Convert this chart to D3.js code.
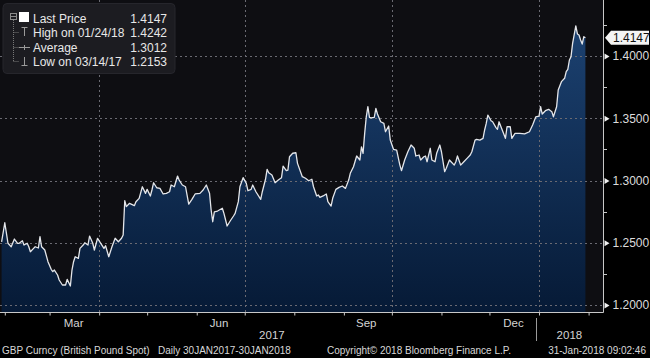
<!DOCTYPE html>
<html><head><meta charset="utf-8">
<script src="https://cdn.jsdelivr.net/npm/d3@7"></script>
<style>html,body{margin:0;padding:0;background:#000;}svg{display:block;}</style>
</head><body>
<svg id="chart" width="650" height="358"></svg>
<script>
// ---- data ----
const dates = ["2017-01-30","2017-02-01","2017-02-03","2017-02-05","2017-02-07","2017-02-09","2017-02-10","2017-02-12","2017-02-13","2017-02-15","2017-02-16","2017-02-17","2017-02-19","2017-02-20","2017-02-22","2017-02-23","2017-02-24","2017-02-26","2017-02-28",
"2017-03-02","2017-03-03","2017-03-04","2017-03-06","2017-03-07","2017-03-09","2017-03-11","2017-03-12","2017-03-14","2017-03-15","2017-03-16","2017-03-17","2017-03-19","2017-03-20","2017-03-22","2017-03-23","2017-03-25","2017-03-26","2017-03-28","2017-03-29","2017-03-31",
"2017-04-02","2017-04-04","2017-04-05","2017-04-07","2017-04-09","2017-04-11","2017-04-13","2017-04-15","2017-04-16","2017-04-17","2017-04-18","2017-04-20","2017-04-21","2017-04-23","2017-04-24","2017-04-26","2017-04-28","2017-04-30",
"2017-05-01","2017-05-03","2017-05-04","2017-05-05","2017-05-07","2017-05-09","2017-05-11","2017-05-13","2017-05-15","2017-05-16","2017-05-18","2017-05-20","2017-05-21","2017-05-23","2017-05-25","2017-05-27","2017-05-29","2017-05-31",
"2017-06-03","2017-06-05","2017-06-07","2017-06-09","2017-06-10","2017-06-11","2017-06-12","2017-06-14","2017-06-17","2017-06-18","2017-06-20","2017-06-22","2017-06-24","2017-06-25","2017-06-27","2017-06-28","2017-06-30",
"2017-07-02","2017-07-03","2017-07-05","2017-07-06","2017-07-08","2017-07-11","2017-07-12","2017-07-14","2017-07-15","2017-07-16","2017-07-18","2017-07-20","2017-07-22","2017-07-24","2017-07-25","2017-07-27","2017-07-28","2017-07-29","2017-07-31",
"2017-08-02","2017-08-03","2017-08-06","2017-08-08","2017-08-10","2017-08-12","2017-08-13","2017-08-15","2017-08-16","2017-08-17","2017-08-19","2017-08-21","2017-08-22","2017-08-24","2017-08-25","2017-08-27","2017-08-29","2017-08-31",
"2017-09-02","2017-09-04","2017-09-05","2017-09-07","2017-09-09","2017-09-11","2017-09-12","2017-09-13","2017-09-14","2017-09-15","2017-09-16","2017-09-17","2017-09-18","2017-09-20","2017-09-21","2017-09-22","2017-09-24","2017-09-26","2017-09-27","2017-09-29","2017-09-30",
"2017-10-02","2017-10-04","2017-10-06","2017-10-07","2017-10-09","2017-10-11","2017-10-13","2017-10-15","2017-10-16","2017-10-18","2017-10-19","2017-10-21","2017-10-22","2017-10-23","2017-10-25","2017-10-26","2017-10-28","2017-10-29","2017-10-31",
"2017-11-01","2017-11-03","2017-11-04","2017-11-06","2017-11-07","2017-11-09","2017-11-10","2017-11-11","2017-11-13","2017-11-15","2017-11-17","2017-11-19","2017-11-20","2017-11-22","2017-11-23","2017-11-25","2017-11-27","2017-11-28","2017-11-29","2017-11-30",
"2017-12-02","2017-12-03","2017-12-05","2017-12-06","2017-12-07","2017-12-09","2017-12-11","2017-12-12","2017-12-14","2017-12-15","2017-12-17","2017-12-20","2017-12-23","2017-12-26","2017-12-28","2017-12-30",
"2018-01-01","2018-01-02","2018-01-03","2018-01-05","2018-01-07","2018-01-09","2018-01-10","2018-01-12","2018-01-13","2018-01-15","2018-01-17","2018-01-18","2018-01-19","2018-01-20","2018-01-21","2018-01-22","2018-01-24","2018-01-25","2018-01-26","2018-01-27","2018-01-28","2018-01-29","2018-01-30"];

const prices = [1.2508,1.2661,1.2496,1.2468,1.2530,1.2496,1.2496,1.2516,1.2482,1.2496,1.2468,1.2428,1.2455,1.2468,1.2458,1.2549,1.2468,1.2442,1.2348,
1.2287,1.2268,1.2281,1.2241,1.2201,1.2161,1.2161,1.2206,1.2153,1.2281,1.2348,1.2388,1.2375,1.2455,1.2482,1.2500,1.2482,1.2554,1.2496,1.2442,1.2536,
1.2496,1.2455,1.2476,1.2388,1.2468,1.2536,1.2508,1.2536,1.2562,1.2838,1.2790,1.2817,1.2811,1.2798,1.2830,1.2857,1.2950,1.2897,
1.2929,1.2876,1.2924,1.2982,1.2942,1.2937,1.2892,1.2897,1.2910,1.2964,1.2950,1.3036,1.3004,1.2964,1.2950,1.2811,1.2849,1.2892,
1.2897,1.2924,1.2964,1.2897,1.2763,1.2669,1.2749,1.2755,1.2777,1.2736,1.2635,1.2677,1.2715,1.2736,1.2830,1.2950,1.3023,
1.2977,1.2918,1.2929,1.2964,1.2910,1.2849,1.2910,1.3010,1.3090,1.3063,1.3044,1.2982,1.3004,1.3023,1.3116,1.3079,1.3084,1.3191,1.3219,
1.3223,1.3138,1.3031,1.3018,1.2998,1.3010,1.2950,1.2876,1.2884,1.2865,1.2876,1.2892,1.2830,1.2795,1.2857,1.2929,1.2945,1.2956,
1.2937,1.3004,1.3058,1.3111,1.3197,1.3165,1.3271,1.3219,1.3379,1.3512,1.3593,1.3508,1.3504,1.3508,1.3580,1.3534,1.3472,1.3459,1.3392,1.3438,1.3325,
1.3251,1.3245,1.3124,1.3079,1.3165,1.3231,1.3285,1.3259,1.3197,1.3205,1.3165,1.3191,1.3197,1.3151,1.3259,1.3165,1.3151,1.3219,1.3285,
1.3231,1.3071,1.3098,1.3165,1.3151,1.3124,1.3151,1.3197,1.3124,1.3151,1.3178,1.3205,1.3231,1.3325,1.3331,1.3325,1.3339,1.3406,1.3459,1.3526,
1.3480,1.3472,1.3427,1.3411,1.3472,1.3406,1.3339,1.3432,1.3432,1.3339,1.3379,1.3379,1.3374,1.3392,1.3446,1.3512,
1.3518,1.3593,1.3534,1.3561,1.3572,1.3553,1.3512,1.3593,1.3727,1.3794,1.3821,1.3874,1.3893,1.3968,1.3994,1.4102,1.4242,1.4177,1.4169,1.4129,1.4096,1.4155,1.4147];

const yTickValues = [1.20, 1.25, 1.30, 1.35, 1.40];
const yMinorTickValues = [1.225, 1.275, 1.325, 1.375, 1.425];
const quarterLabelDates = ["2017-03-16","2017-06-15","2017-09-15","2017-12-16"];
const quarterLabels = ["Mar","Jun","Sep","Dec"];
const yearLabelDates = ["2017-07-18","2018-01-20"];
const yearLabels = ["2017","2018"];
const legendLabels = ["Last Price","High on 01/24/18","Average","Low on 03/14/17"];
const legendValues = ["1.4147","1.4242","1.3012","1.2153"];
const lastPrice = 1.4147;
const footerTexts = ["GBP Curncy (British Pound Spot)","Daily 30JAN2017-30JAN2018","Copyright\u00A9 2018 Bloomberg Finance L.P.","31-Jan-2018 09:02:46"];

// ---- layout ----
const W = 650, H = 358;
const plotL = 0, plotR = 603, plotT = 0, plotB = 312;
const parse = d3.timeParse("%Y-%m-%d");
const data = dates.map((d, i) => ({date: parse(d), v: prices[i]}));

const svg = d3.select("#chart");
const font = "'Liberation Sans', Arial, sans-serif";

const x = d3.scaleTime().domain([parse("2017-01-29"), parse("2018-02-10")]).range([plotL, plotR]);
const y = d3.scaleLinear().domain([1.1944, 1.445]).range([plotB, plotT]);

svg.append("rect").attr("width", W).attr("height", H).attr("fill", "#000");
svg.append("rect").attr("x", plotL).attr("y", plotT).attr("width", plotR - plotL).attr("height", plotB - plotT).attr("fill", "#0e0e12");

const defs = svg.append("defs");
const grad = defs.append("linearGradient").attr("id", "fillGrad")
  .attr("gradientUnits", "userSpaceOnUse").attr("x1", 0).attr("y1", 20).attr("x2", 0).attr("y2", plotB);
grad.append("stop").attr("offset", "0%").attr("stop-color", "#1c4272");
grad.append("stop").attr("offset", "100%").attr("stop-color", "#061a36");

// area
svg.append("path").datum(data)
  .attr("d", d3.area().x(d => x(d.date)).y0(plotB).y1(d => y(d.v)))
  .attr("fill", "url(#fillGrad)");

// grid
const grid = svg.append("g");
grid.selectAll("line.h").data(yTickValues).join("line")
  .attr("x1", plotL).attr("x2", plotR).attr("y1", d => Math.round(y(d)) + 0.5).attr("y2", d => Math.round(y(d)) + 0.5)
  .attr("stroke", "#6a6a72").attr("stroke-width", 1).attr("stroke-dasharray", "2,3");
const quarterStarts = d3.timeMonth.every(3).range(parse("2017-03-01"), parse("2018-02-10")).filter(d => d.getMonth() % 3 === 0);
grid.selectAll("line.v").data(quarterStarts).join("line")
  .attr("x1", d => Math.round(x(d)) + 0.5).attr("x2", d => Math.round(x(d)) + 0.5).attr("y1", plotT).attr("y2", plotB)
  .attr("stroke", "#6a6a72").attr("stroke-width", 1).attr("stroke-dasharray", "2,3");

// line
svg.append("path").datum(data)
  .attr("d", d3.line().x(d => x(d.date)).y(d => y(d.v)))
  .attr("fill", "none").attr("stroke", "#e4e6ea").attr("stroke-width", 1.3).attr("stroke-linejoin", "round");

// axes lines
svg.append("line").attr("x1", plotL).attr("x2", plotR + 0.5).attr("y1", plotB + 0.5).attr("y2", plotB + 0.5).attr("stroke", "#c8c8c8");
svg.append("line").attr("x1", plotR + 0.5).attr("x2", plotR + 0.5).attr("y1", plotT).attr("y2", plotB + 0.5).attr("stroke", "#c8c8c8");

// bottom axis (month ticks)
const xAxis = d3.axisBottom(x).ticks(d3.timeMonth.every(1)).tickSize(3).tickFormat("");
const gx = svg.append("g").attr("transform", `translate(0,${plotB + 0.5})`).call(xAxis);
gx.select(".domain").remove();
gx.selectAll(".tick line").attr("stroke", "#c8c8c8");

svg.append("g").selectAll("text").data(quarterLabels).join("text")
  .attr("x", (d, i) => x(parse(quarterLabelDates[i]))).attr("y", 327)
  .attr("text-anchor", "middle").attr("fill", "#d4d4d4").attr("font-family", font).attr("font-size", 11.5)
  .text(d => d);
svg.append("g").selectAll("text").data(yearLabels).join("text")
  .attr("x", (d, i) => x(parse(yearLabelDates[i]))).attr("y", 339)
  .attr("text-anchor", "middle").attr("fill", "#d4d4d4").attr("font-family", font).attr("font-size", 11.5)
  .text(d => d);
const yearSep = parse("2018-01-01");
svg.append("line").attr("x1", Math.round(x(yearSep)) - 2.5).attr("x2", Math.round(x(yearSep)) - 2.5).attr("y1", 318).attr("y2", 341)
  .attr("stroke", "#9a9a9a");

// right axis
const yAxis = d3.axisRight(y).tickValues(yTickValues).tickSize(0).tickPadding(9).tickFormat(d3.format(".4f"));
const gy = svg.append("g").attr("transform", `translate(${plotR + 0.5},0)`).call(yAxis);
gy.select(".domain").remove();
gy.selectAll(".tick text").attr("fill", "#dcdcdc").attr("font-family", font).attr("font-size", 12);
gy.selectAll(".tick").append("path").attr("d", "M1,-3L6,0L1,3Z").attr("fill", "#f0f0f0");
svg.append("g").selectAll("line").data(yMinorTickValues).join("line")
  .attr("x1", plotR).attr("x2", plotR + 4).attr("y1", d => Math.round(y(d)) + 0.5).attr("y2", d => Math.round(y(d)) + 0.5)
  .attr("stroke", "#c8c8c8");

// last price tag
const ly = y(lastPrice);
svg.append("path")
  .attr("d", `M${plotR + 2},${ly} L${plotR + 8},${ly - 7} L${W - 1},${ly - 7} L${W - 1},${ly + 7} L${plotR + 8},${ly + 7} Z`)
  .attr("fill", "#f4f4f4");
svg.append("text").attr("x", plotR + 10).attr("y", ly + 4.2).attr("fill", "#111").attr("font-family", font).attr("font-size", 12)
  .text(d3.format(".4f")(lastPrice));

// legend
const lg = svg.append("g");
lg.append("rect").attr("x", 3).attr("y", 3.5).attr("width", 172).attr("height", 70).attr("rx", 4)
  .attr("fill", "#1c1c21").attr("stroke", "#26262c");
const rowY = [18, 32, 47, 61];
// tree
lg.append("rect").attr("x", 10.5).attr("y", 13.5).attr("width", 6).attr("height", 6).attr("fill", "none").attr("stroke", "#8a8a8a");
lg.append("line").attr("x1", 11).attr("x2", 16).attr("y1", 16.5).attr("y2", 16.5).attr("stroke", "#8a8a8a");
lg.append("line").attr("x1", 13.5).attr("x2", 13.5).attr("y1", 20).attr("y2", rowY[3]).attr("stroke", "#777").attr("stroke-dasharray", "1,1");
lg.selectAll("line.br").data(rowY.slice(1)).join("line")
  .attr("x1", 13.5).attr("x2", 19).attr("y1", d => d + 0.5).attr("y2", d => d + 0.5).attr("stroke", "#777").attr("stroke-dasharray", "1,1");
lg.append("rect").attr("x", 19).attr("y", 12).attr("width", 10).attr("height", 10).attr("fill", "#fff");
// high icon
lg.append("path").attr("d", `M21.5,${rowY[1] - 4.5}H27.5M24.5,${rowY[1] - 4.5}V${rowY[1] + 4}`).attr("stroke", "#9a9a9a").attr("fill", "none");
// average icon
lg.append("path").attr("d", `M19,${rowY[2] + 0.5}H30M24.5,${rowY[2] - 2}V${rowY[2] + 3}`).attr("stroke", "#9a9a9a").attr("fill", "none");
// low icon
lg.append("path").attr("d", `M24.5,${rowY[3] - 4}V${rowY[3] + 4.5}M21.5,${rowY[3] + 4.5}H27.5`).attr("stroke", "#9a9a9a").attr("fill", "none");
lg.selectAll("text.lab").data(legendLabels).join("text")
  .attr("x", 33).attr("y", (d, i) => rowY[i] + 4.5)
  .attr("fill", "#e8e8e8").attr("font-family", font).attr("font-size", 12).text(d => d);
lg.selectAll("text.val").data(legendValues).join("text")
  .attr("x", 167).attr("y", (d, i) => rowY[i] + 4.5).attr("text-anchor", "end")
  .attr("fill", "#e8e8e8").attr("font-family", font).attr("font-size", 12).text(d => d);

// footer
const footerX = [2, 158, 327, 646];
const footerAnchor = ["start", "start", "start", "end"];
svg.append("g").selectAll("text").data(footerTexts).join("text")
  .attr("x", (d, i) => footerX[i]).attr("y", 354).attr("text-anchor", (d, i) => footerAnchor[i])
  .attr("fill", "#d8d8d8").attr("font-family", font).attr("font-size", 10).text(d => d);
</script>
</body></html>
